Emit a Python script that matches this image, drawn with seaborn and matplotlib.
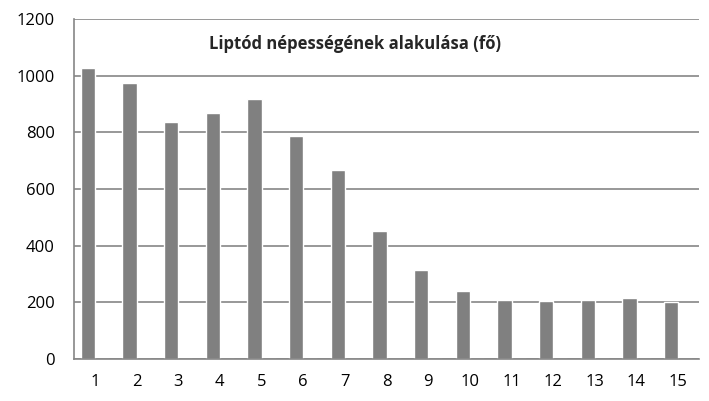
import seaborn as sns
import pandas as pd
from matplotlib import pyplot as plt

evek = [str(i) for i in range(1, 16)]
nepesseg = [1028, 975, 836, 868, 918, 788, 668, 453, 315, 241, 209, 206, 209, 216, 201]
# Excel-like chart with an empty second series -> bar sits left of the tick
ures = [0] * len(evek)

df = pd.DataFrame({
    'ev': evek * 2,
    'fo': nepesseg + ures,
    'sor': ['a'] * len(evek) + ['b'] * len(evek),
})

sns.set_theme(style="white")
plt.rcParams['font.family'] = ['Open Sans', 'DejaVu Sans']

fig = plt.figure(figsize=(7.09, 4.01), dpi=100)
ax = fig.add_axes([74 / 709, 1 - 359 / 401, 625 / 709, 340 / 401])

sns.barplot(data=df, x='ev', y='fo', hue='sor', palette=['#808080', '#808080'],
            saturation=1, width=0.68, gap=0, legend=False, ax=ax)

ax.set_xlim(-0.5, len(evek) - 0.5)
ax.set_ylim(0, 1200)
ax.set_yticks(range(0, 1201, 200))
ax.yaxis.grid(True, color='#868686', linewidth=1.2)
ax.set_axisbelow(True)
ax.set_xlabel('')
ax.set_ylabel('')
for s in ['top', 'right']:
    ax.spines[s].set_visible(False)
for s in ['left', 'bottom']:
    ax.spines[s].set_color('#868686')
    ax.spines[s].set_linewidth(1.2)
ax.tick_params(axis='y', labelsize=12, colors='black', length=0, pad=14)
ax.tick_params(axis='x', labelsize=12, colors='black', length=0, pad=11)

fig.text(355 / 709, 1 - 44 / 401, 'Liptód népességének alakulása (fő)',
         ha='center', va='center', fontsize=12, fontweight='bold')

fig.savefig('out.png', dpi=100)
